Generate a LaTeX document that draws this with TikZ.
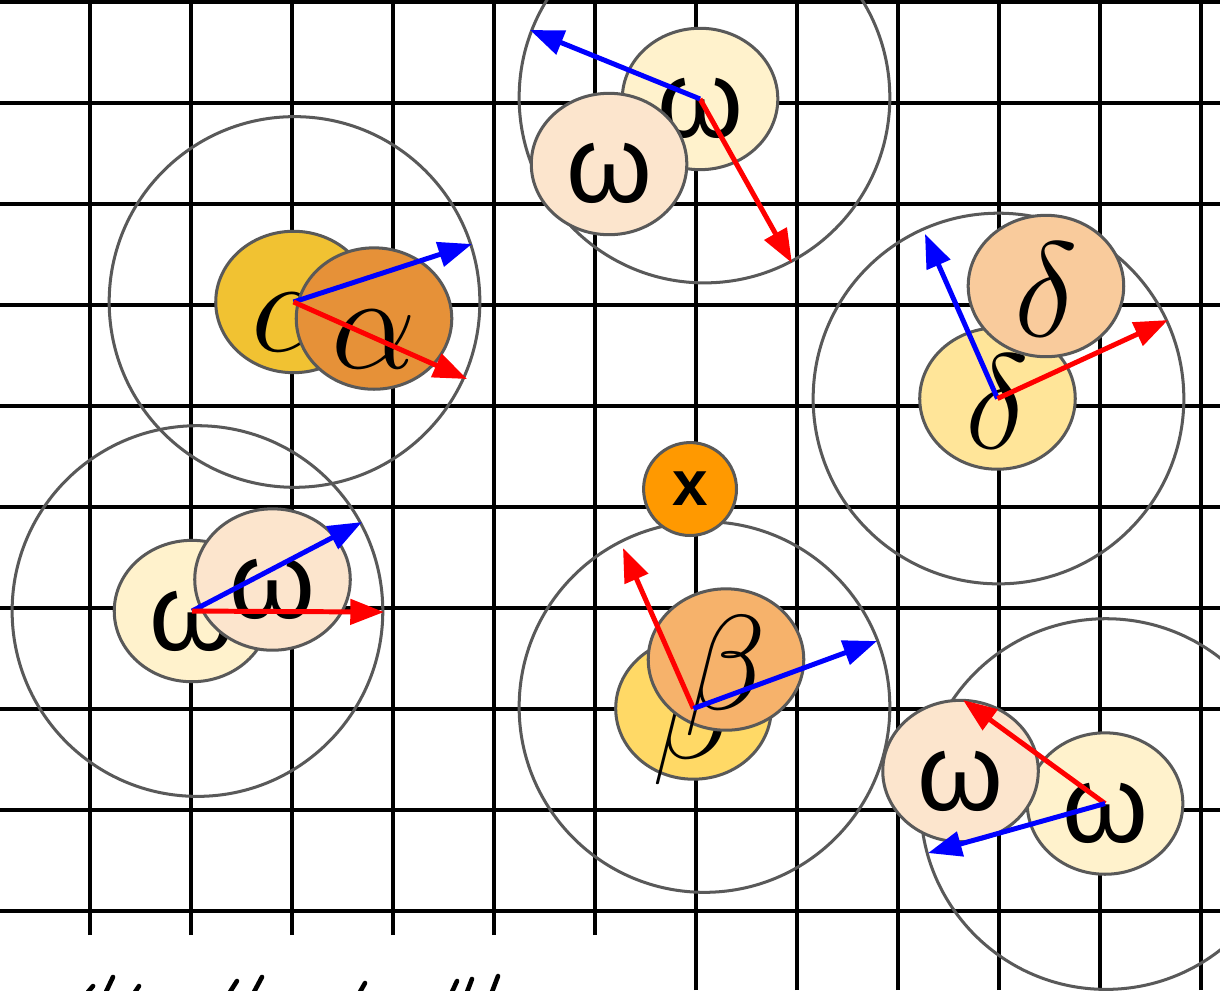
\RequirePackage{fix-cm}
\documentclass[tikz,border=0pt]{standalone}
\usepackage{fontspec}
\newfontfamily\symfont{Liberation Sans}
\usepackage{tikz}
\usetikzlibrary{calc,shapes.geometric,arrows.meta}

\definecolor{rim}{HTML}{595959}
\definecolor{omegalight}{HTML}{FFF2CC}
\definecolor{omegapeach}{HTML}{FCE5CD}
\definecolor{alphagold}{HTML}{F1C232}
\definecolor{alphaorange}{HTML}{E69138}
\definecolor{deltalight}{HTML}{FFE599}
\definecolor{deltapeach}{HTML}{F9CB9C}
\definecolor{betagold}{HTML}{FFD966}
\definecolor{betaorange}{HTML}{F6B26B}
\definecolor{xorange}{HTML}{FF9900}

\newcommand{\om}{{\symfont\fontsize{31}{31}\selectfont ω}}
\newcommand{\gk}[1]{{\fontsize{38}{38}\selectfont$#1$}}

\begin{document}
\begin{tikzpicture}[
    gridline/.style={line width=1.15pt, color=black},
    reach/.style={draw=rim, line width=0.85pt},
    body/.style={ellipse, draw=rim, line width=0.85pt, minimum width=1.54cm,
        minimum height=1.40cm, inner sep=0pt, text depth=0pt},
    greekbody/.style={body, text height=0.99cm},
    omegabody/.style={body, text height=0.772cm},
    xbody/.style={circle, draw=rim, line width=0.85pt, fill=xorange,
        minimum size=0.92cm, inner sep=0pt},
    vecblue/.style={blue, line width=1.4pt, -{Triangle[length=9.5pt,width=7pt]}},
    vecred/.style={red, line width=1.4pt, -{Triangle[length=9.5pt,width=7pt]}},
    scrawl/.style={line width=1.3pt, line cap=round, color=black}
]

\useasboundingbox (-0.891,-0.782) rectangle (11.188,9.020);
\clip (-0.891,-0.782) rectangle (11.188,9.020);

% grid
\foreach \r in {0,...,9}
    \draw[gridline] (-0.891,\r) -- (11.188,\r);
\foreach \c in {0,...,5}
    \draw[gridline] (\c,-0.238) -- (\c,9.02);
\foreach \c in {6,...,11}
    \draw[gridline] (\c,-0.782) -- (\c,9.02);

% ranges
\coordinate (rTop) at (6.084,8.054);
\coordinate (rAlpha) at (2.025,6.030);
\coordinate (rLeft) at (1.064,2.970);
\coordinate (rDelta) at (8.995,5.074);
\coordinate (rBeta) at (6.084,2.020);
\coordinate (rRight) at (10.059,1.059);

\foreach \n in {rTop,rAlpha,rLeft,rDelta,rBeta,rRight}
    \draw[reach] (\n) circle[radius=1.835];

% bodies
\node[omegabody, fill=omegalight] (wT1) at (6.040,8.040) {\om};
\node[omegabody, fill=omegapeach] (wT2) at (5.139,7.396) {\om};

\node[greekbody, fill=alphagold] (aG) at (2.015,6.030) {\gk{\alpha}};
\node[greekbody, fill=alphaorange] (aO) at (2.812,5.866) {\gk{\alpha}};

\node[omegabody, fill=omegalight] (wL1) at (1.010,2.970) {\om};
\node[omegabody, fill=omegapeach] (wL2) at (1.807,3.282) {\om};

\node[greekbody, fill=deltalight] (dL) at (8.985,5.074) {\gk{\delta}};
\node[greekbody, fill=deltapeach] (dP) at (9.465,6.188) {\gk{\delta}};

\node[greekbody, fill=betagold] (bG) at (5.975,2.005) {\gk{\beta}};
\node[greekbody, fill=betaorange] (bO) at (6.297,2.490) {\gk{\beta}};

\node[omegabody, fill=omegalight] (wR1) at (10.050,1.064) {\om};
\node[omegabody, fill=omegapeach] (wR2) at (8.619,1.386) {\om};

\node[xbody] (xm) at (5.941,4.178) {\symfont\bfseries\fontsize{18}{18}\selectfont x};

% vectors
\coordinate (tTopB) at (4.356,8.723);
\coordinate (tTopR) at (6.950,6.416);
\coordinate (tAlphaB) at (3.782,6.604);
\coordinate (tAlphaR) at (3.733,5.267);
\coordinate (tLeftB) at (2.693,3.851);
\coordinate (tLeftR) at (2.911,2.960);
\coordinate (tDeltaB) at (8.267,6.703);
\coordinate (tDeltaR) at (10.673,5.851);
\coordinate (tBetaR) at (5.277,3.594);
\coordinate (tBetaB) at (7.792,2.673);
\coordinate (tRightR) at (8.644,2.089);
\coordinate (tRightB) at (8.297,0.574);

\draw[vecred] (wT1.center) -- (tTopR);
\draw[vecblue] (wT1.center) -- (tTopB);
\draw[vecblue] (aG.center) -- (tAlphaB);
\draw[vecred] (aG.center) -- (tAlphaR);
\draw[vecblue] (wL1.center) -- (tLeftB);
\draw[vecred] (wL1.center) -- (tLeftR);
\draw[vecblue] (dL.center) -- (tDeltaB);
\draw[vecred] (dL.center) -- (tDeltaR);
\draw[vecred] (bG.center) -- (tBetaR);
\draw[vecblue] (bG.center) -- (tBetaB);
\draw[vecred] (wR1.center) -- (tRightR);
\draw[vecblue] (wR1.center) -- (tRightB);

% cut-off marks along the bottom edge
\foreach \xa/\xb/\yb in {-0.020/0.030/-0.743, 0.158/0.228/-0.653, 0.446/0.485/-0.743,
    1.386/1.455/-0.693, 1.624/1.703/-0.653, 2.673/2.723/-0.713,
    3.584/3.634/-0.693, 3.733/3.782/-0.673, 3.980/4.040/-0.644}
    \draw[scrawl] (\xa,-0.802) -- (\xb,\yb);

\end{tikzpicture}
\end{document}
